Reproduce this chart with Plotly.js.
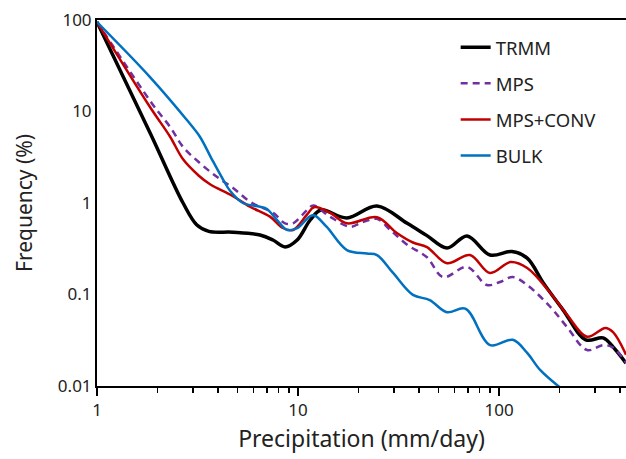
<!DOCTYPE html>
<html>
<head>
<meta charset="utf-8">
<script src="https://cdn.plot.ly/plotly-3.0.1.min.js"></script>
<style>html,body{margin:0;padding:0;background:#fff;}#chart{width:626px;height:459px;}</style>
</head>
<body>
<div id="chart"></div>
<script>
// Data (x: precipitation mm/day, y: frequency %)
const trmmX = [1, 1.84, 2.68, 3.14, 3.6, 4.75, 6.47, 7.5, 8.62, 9.9, 11.5, 13, 17.5, 24.7, 34.9, 43.8, 55.1, 69.3, 90.2, 116, 138, 166, 208, 270, 329, 369, 428];
const trmmY = [95, 5.8, 1.0, 0.575, 0.49, 0.48, 0.447, 0.394, 0.331, 0.394, 0.652, 0.84, 0.686, 0.927, 0.6, 0.44, 0.322, 0.436, 0.27, 0.295, 0.25, 0.134, 0.068, 0.032, 0.0335, 0.0267, 0.0178];

const mpsX = [1, 1.9, 2.31, 2.68, 3.25, 3.96, 4.75, 5.77, 6.47, 7.52, 8.62, 9.45, 11.1, 11.9, 14.4, 18.2, 21, 24.7, 28.7, 34.9, 43.8, 52.7, 69.3, 87, 101, 117, 138, 180, 218, 274, 329, 369, 428];
const mpsY = [95, 11.8, 6.78, 4.1, 2.73, 1.92, 1.46, 1.03, 0.91, 0.78, 0.60, 0.60, 0.84, 0.94, 0.71, 0.55, 0.62, 0.67, 0.51, 0.35, 0.255, 0.155, 0.20, 0.127, 0.137, 0.155, 0.127, 0.073, 0.044, 0.0247, 0.028, 0.0263, 0.018];

const convX = [1, 1.835, 2.31, 2.68, 3.2, 3.65, 4.7, 5.77, 7.25, 8.4, 9.45, 11.1, 12, 14.4, 17.5, 24.7, 31, 37.3, 43.8, 55, 71.6, 90.2, 114, 138, 180, 218, 274, 338, 369, 428];
const convY = [95, 11.2, 5.3, 3.0, 2.0, 1.6, 1.2, 0.91, 0.71, 0.533, 0.507, 0.75, 0.90, 0.785, 0.60, 0.70, 0.47, 0.37, 0.33, 0.22, 0.27, 0.172, 0.226, 0.195, 0.104, 0.06, 0.0345, 0.043, 0.0387, 0.022];

const bulkX = [1, 1.835, 2.8, 3.25, 3.7, 4.24, 4.6, 5.32, 6.47, 7.0, 7.87, 8.8, 9.9, 11.5, 12.1, 13.9, 17.5, 22, 24.7, 29.7, 37.3, 45.2, 55, 68, 90.2, 117, 138, 160, 205];
const bulkY = [95, 23.8, 8.07, 5.3, 3.1, 1.8, 1.35, 1.0, 0.91, 0.86, 0.65, 0.51, 0.53, 0.72, 0.73, 0.547, 0.306, 0.28, 0.27, 0.172, 0.099, 0.087, 0.064, 0.07, 0.028, 0.032, 0.023, 0.015, 0.0093];

const seriesNames = ['TRMM', 'MPS', 'MPS+CONV', 'BULK'];
const xTicks = [1, 10, 100];
const xTickText = ['1', '10', '100'];
const yTicks = [0.01, 0.1, 1, 10, 100];
const yTickText = ['0.01', '0.1', '1', '10', '100'];

const FONT = '"Noto Sans", "Open Sans", sans-serif';

function tr(x, y, name, color, width, dash, grp) {
  return {
    x: x, y: y, name: name, type: 'scatter', mode: 'lines',
    legendgroup: grp,
    line: {color: color, width: width, dash: dash, shape: 'spline', smoothing: 1}
  };
}

const data = [
  tr(trmmX, trmmY, seriesNames[0], '#000000', 3.5, 'solid', 'g1'),
  tr(mpsX, mpsY, seriesNames[1], '#7030A0', 2.5, '7px,5px', 'g2'),
  tr(convX, convY, seriesNames[2], '#C00000', 2.5, 'solid', 'g3'),
  tr(bulkX, bulkY, seriesNames[3], '#0070C0', 2.5, 'solid', 'g4')
];

const layout = {
  width: 626, height: 459,
  margin: {l: 97, r: 0, t: 20, b: 73, pad: 0},
  paper_bgcolor: '#fff', plot_bgcolor: '#fff',
  font: {family: FONT, size: 17, color: '#222'},
  showlegend: true,
  legend: {
    x: 0.678, y: 0.976, xanchor: 'left', yanchor: 'top',
    bgcolor: 'rgba(0,0,0,0)', borderwidth: 0,
    font: {family: FONT, size: 18.5, color: '#222'},
    traceorder: 'grouped', tracegroupgap: 9
  },
  xaxis: {
    type: 'log', range: [0, Math.log10(428)],
    tickvals: xTicks, ticktext: xTickText,
    showgrid: false, zeroline: false,
    showline: true, linecolor: '#000', linewidth: 2, mirror: true,
    ticks: 'outside', ticklen: 8, tickwidth: 1.5, tickcolor: '#000',
    minor: {ticks: 'outside', ticklen: 5, tickwidth: 1.5, tickcolor: '#000', dtick: 'D1', showgrid: false},
    tickfont: {family: FONT, size: 17, color: '#222'},
    title: {text: 'Precipitation (mm/day)', font: {family: FONT, size: 23, color: '#222'}, standoff: 10}
  },
  yaxis: {
    type: 'log', range: [-2, 2],
    tickvals: yTicks, ticktext: yTickText,
    showgrid: false, zeroline: false,
    showline: true, linecolor: '#000', linewidth: 2,
    ticks: '', ticklen: 0,
    tickfont: {family: FONT, size: 17, color: '#222'},
    title: {text: 'Frequency (%)', font: {family: FONT, size: 21, color: '#222'}, standoff: 20}
  }
};

Plotly.newPlot('chart', data, layout, {displayModeBar: false, staticPlot: true});
</script>
</body>
</html>
